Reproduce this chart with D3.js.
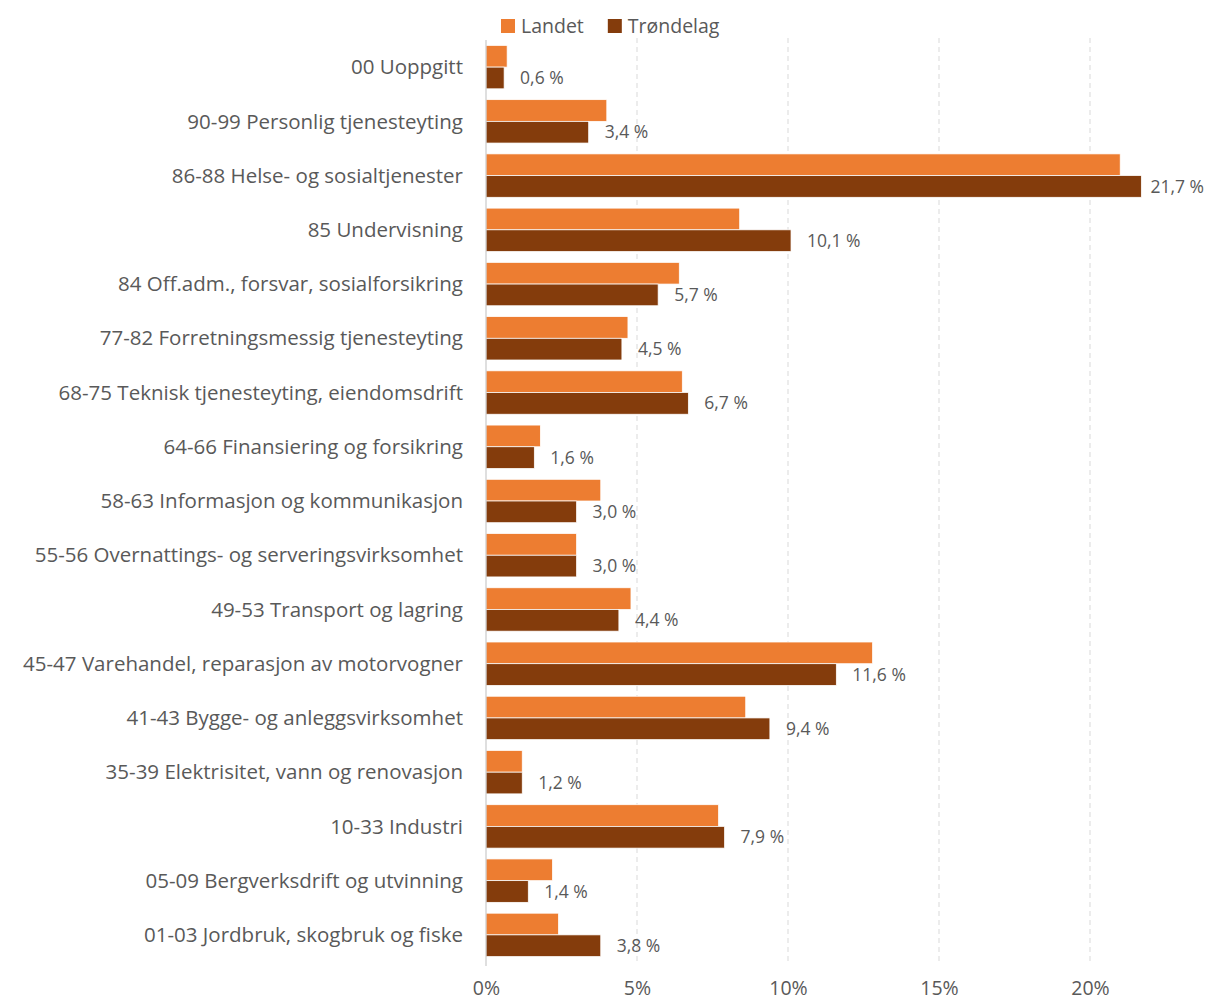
<!DOCTYPE html>
<html>
<head>
<meta charset="utf-8">
<script src="https://cdn.jsdelivr.net/npm/d3@7"></script>
<style>
  html, body { margin: 0; padding: 0; background: #fff; }
  svg { display: block; font-family: "Open Sans", Lato, sans-serif; }
</style>
</head>
<body>
<svg id="chart" width="1207" height="1001"></svg>
<script>
// Sysselsatte etter næring, andel (%)
const categories = [
  "00 Uoppgitt",
  "90-99 Personlig tjenesteyting",
  "86-88 Helse- og sosialtjenester",
  "85 Undervisning",
  "84 Off.adm., forsvar, sosialforsikring",
  "77-82 Forretningsmessig tjenesteyting",
  "68-75 Teknisk tjenesteyting, eiendomsdrift",
  "64-66 Finansiering og forsikring",
  "58-63 Informasjon og kommunikasjon",
  "55-56 Overnattings- og serveringsvirksomhet",
  "49-53 Transport og lagring",
  "45-47 Varehandel, reparasjon av motorvogner",
  "41-43 Bygge- og anleggsvirksomhet",
  "35-39 Elektrisitet, vann og renovasjon",
  "10-33 Industri",
  "05-09 Bergverksdrift og utvinning",
  "01-03 Jordbruk, skogbruk og fiske"
];
const landet = [0.7, 4.0, 21.0, 8.4, 6.4, 4.7, 6.5, 1.8, 3.8, 3.0, 4.8, 12.8, 8.6, 1.2, 7.7, 2.2, 2.4];
const trondelag = [0.6, 3.4, 21.7, 10.1, 5.7, 4.5, 6.7, 1.6, 3.0, 3.0, 4.4, 11.6, 9.4, 1.2, 7.9, 1.4, 3.8];
const seriesNames = ["Landet", "Trøndelag"];
const seriesColors = ["#ED7D31", "#843C0C"];
const xTicks = [0, 5, 10, 15, 20];

const W = 1207, H = 1001;
const svg = d3.select("#chart");

const x = d3.scaleLinear().domain([0, 20]).range([486, 1090]);
const y = d3.scaleBand().domain(categories).range([40, 962]).paddingInner(0.2).paddingOuter(0.1);
const sub = d3.scaleBand().domain(seriesNames).range([0, y.bandwidth()]);

const textColor = "#595959";

// gridlines
svg.append("g").selectAll("line")
  .data(xTicks.filter(d => d > 0))
  .join("line")
  .attr("x1", d => x(d)).attr("x2", d => x(d))
  .attr("y1", 38).attr("y2", 962)
  .attr("stroke", "#d9d9d9").attr("stroke-width", 1)
  .attr("stroke-dasharray", "5,4");

// bars
const rows = categories.map((c, i) => ({ c, vals: [landet[i], trondelag[i]] }));
const grp = svg.append("g").selectAll("g").data(rows).join("g")
  .attr("transform", d => `translate(0,${y(d.c)})`);
grp.selectAll("rect")
  .data(d => d.vals.map((v, k) => ({ v, k })))
  .join("rect")
  .attr("x", x(0))
  .attr("y", d => sub(seriesNames[d.k]))
  .attr("width", d => x(d.v) - x(0))
  .attr("height", sub.bandwidth())
  .attr("fill", d => seriesColors[d.k])
  .attr("stroke", "#fff").attr("stroke-width", 0.75);

// value labels on Trøndelag bars
const fmt = v => d3.format(".1f")(v).replace(".", ",") + " %";
grp.append("text")
  .attr("class", "val")
  .attr("y", sub("Trøndelag") + sub.bandwidth() / 2)
  .attr("dy", "0.35em")
  .attr("font-size", 17.5)
  .attr("fill", textColor)
  .text((d) => fmt(d.vals[1]))
  .each(function(d) {
    const w = this.getComputedTextLength();
    const px = Math.min(x(d.vals[1]) + 16, W - w - 3);
    d3.select(this).attr("x", px);
  });

// vertical axis line
svg.append("line")
  .attr("x1", x(0)).attr("x2", x(0))
  .attr("y1", 40).attr("y2", 966)
  .attr("stroke", "#bfbfbf").attr("stroke-width", 1);

// category labels
svg.append("g").selectAll("text").data(categories).join("text")
  .attr("x", 463)
  .attr("y", d => y(d) + y.bandwidth() / 2)
  .attr("dy", "0.35em")
  .attr("text-anchor", "end")
  .attr("font-size", 20.5)
  .attr("fill", textColor)
  .text(d => d);

// x axis tick labels
const xAxis = d3.axisBottom(x).tickValues(xTicks).tickFormat(d => d + "%").tickSize(0).tickPadding(0);
const gx = svg.append("g").attr("transform", "translate(0,978)").call(xAxis);
gx.select(".domain").remove();
gx.selectAll("text").attr("font-size", 19.5).attr("fill", textColor)
  .attr("font-family", "'Open Sans', Lato, sans-serif").attr("dy", "0.35em").attr("y", 10);

// legend
const leg = svg.append("g").attr("transform", "translate(501,26)");
let lx = 0;
seriesNames.forEach((n, i) => {
  const g = leg.append("g").attr("transform", `translate(${lx},0)`);
  g.append("rect").attr("x", 0).attr("y", -7).attr("width", 14).attr("height", 14).attr("fill", seriesColors[i]);
  const t = g.append("text").attr("x", 20).attr("dy", "0.35em").attr("font-size", 19.5).attr("fill", textColor).text(n);
  lx += 20 + t.node().getComputedTextLength() + 24;
});
</script>
</body>
</html>
